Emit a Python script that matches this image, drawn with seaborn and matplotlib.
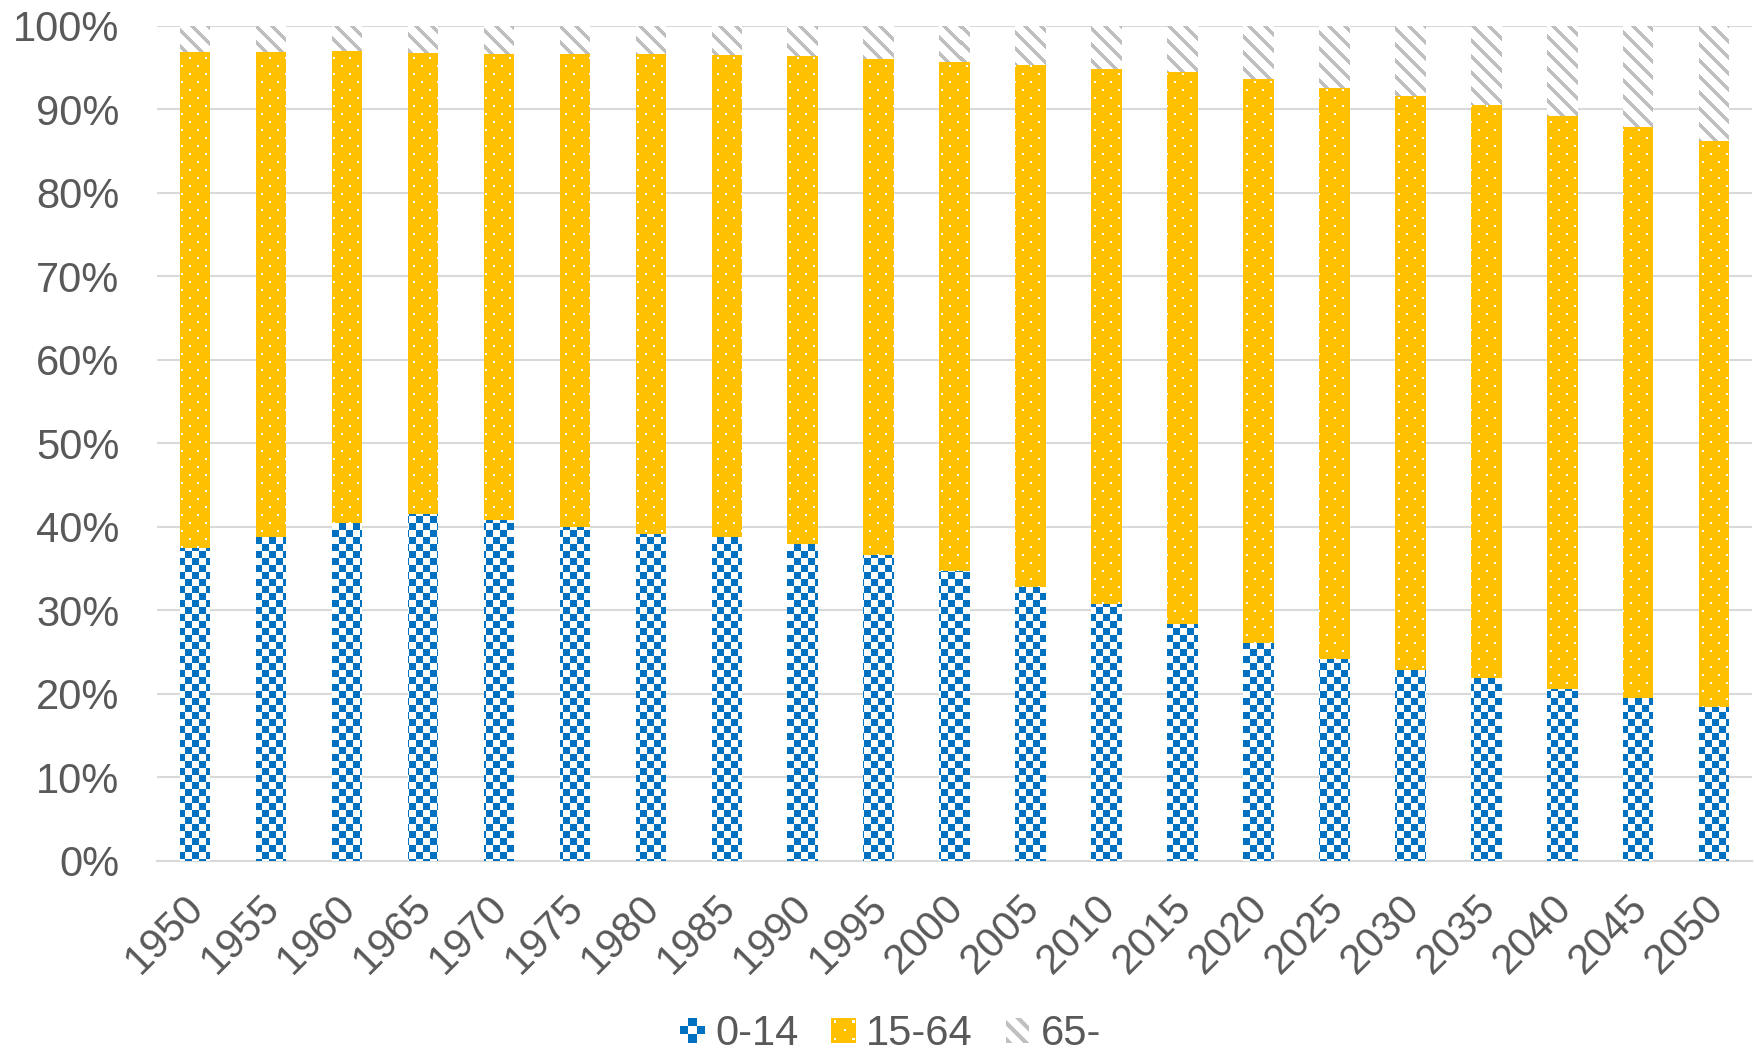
import matplotlib
matplotlib.use('Agg')
import matplotlib.pyplot as plt
import matplotlib.transforms as mtransforms
import seaborn as sns
import numpy as np
import pandas as pd
from matplotlib.patches import Patch, Rectangle, PathPatch
from matplotlib.path import Path
from matplotlib.legend_handler import HandlerBase
from matplotlib.colors import ListedColormap

years = [1950, 1955, 1960, 1965, 1970, 1975, 1980, 1985, 1990, 1995, 2000,
         2005, 2010, 2015, 2020, 2025, 2030, 2035, 2040, 2045, 2050]
# share of population by age group (%)
age_0_14 = [37.5, 38.8, 40.5, 41.6, 40.8, 40.0, 39.2, 38.8, 38.0, 36.7, 34.7,
            32.8, 30.8, 28.4, 26.1, 24.2, 22.9, 21.9, 20.6, 19.5, 18.4]
age_15_64 = [59.4, 58.1, 56.5, 55.2, 55.9, 56.6, 57.4, 57.7, 58.4, 59.4, 61.0,
             62.5, 64.1, 66.1, 67.5, 68.4, 68.7, 68.6, 68.6, 68.4, 67.8]
age_65 = [3.1, 3.1, 3.0, 3.2, 3.3, 3.4, 3.4, 3.5, 3.6, 3.9, 4.3,
          4.7, 5.1, 5.5, 6.4, 7.4, 8.4, 9.5, 10.8, 12.1, 13.8]
group_labels = ['0-14', '15-64', '65-']

BLUE = '#0070C0'
YELLOW = '#FFC000'
GRAY = '#BFBFBF'
TEXT = '#595959'
GRID = '#D9D9D9'

sns.set_style('white')
plt.rcParams['font.family'] = ['Liberation Sans', 'DejaVu Sans']
plt.rcParams['hatch.linewidth'] = 3.0

df = pd.DataFrame({'year': [str(y) for y in years],
                   'young': age_0_14, 'work': age_15_64, 'old': age_65})
df['cum_work'] = df['young'] + df['work']
df['cum_old'] = df['cum_work'] + df['old']

fig = plt.figure(figsize=(17.54, 10.55), dpi=100)
ax = fig.add_axes([0.0895, 0.1839, 0.9095, 0.7915])

sns.barplot(data=df, x='year', y='cum_old', color='white', linewidth=0,
            width=0.4, saturation=1, ax=ax)
sns.barplot(data=df, x='year', y='cum_work', color=YELLOW, linewidth=0,
            width=0.4, saturation=1, ax=ax)
sns.barplot(data=df, x='year', y='young', color=BLUE, linewidth=0,
            width=0.4, saturation=1, ax=ax)

xlim = (-0.5, len(years) - 0.5)
ylim = (0, 100)

# pixel textures (Excel-like pattern fills), clipped to each bar series
bb = ax.get_window_extent()
W, H = int(round(bb.width)), int(round(bb.height))
rows, cols = np.indices((H, W))
tex_old = (((cols - rows) % 16) < 5).astype(int)
tex_work = ((((rows % 16) < 2) & ((cols % 16) < 2)) |
            ((((rows + 8) % 16) < 2) & (((cols + 8) % 16) < 2))).astype(int)
tex_young = ((rows // 7 + cols // 7) % 2)

textures = [(tex_old, ['white', GRAY]),
            (tex_work, [YELLOW, 'white']),
            (tex_young, ['white', BLUE])]
for k, (tex, cols_) in enumerate(textures):
    cont = ax.containers[k]
    paths = [b.get_path().transformed(b.get_patch_transform()) for b in cont]
    clip = PathPatch(Path.make_compound_path(*paths), transform=ax.transData,
                     facecolor='none', edgecolor='none')
    im = ax.imshow(tex, cmap=ListedColormap(cols_), vmin=0, vmax=1,
                   extent=(xlim[0], xlim[1], ylim[0], ylim[1]),
                   origin='upper', aspect='auto', interpolation='nearest',
                   zorder=2 + k)
    im.set_clip_path(clip)

ax.set_xlim(*xlim)
ax.set_ylim(*ylim)
ax.set_axisbelow(True)
ax.yaxis.grid(True, color=GRID, linewidth=1.5)
ax.xaxis.grid(False)
for s in ['top', 'right', 'left']:
    ax.spines[s].set_visible(False)
ax.spines['bottom'].set_color(GRID)
ax.spines['bottom'].set_linewidth(1.5)

ax.set_yticks(range(0, 101, 10))
ax.set_yticklabels([f'{v}%' for v in range(0, 101, 10)])
ax.tick_params(axis='y', length=0, labelsize=30, labelcolor=TEXT, pad=27)
ax.tick_params(axis='x', length=0, labelsize=30, labelcolor=TEXT, pad=19)
shift = mtransforms.ScaledTranslation(-11 / 100, 0, fig.dpi_scale_trans)
for lab in ax.get_xticklabels():
    lab.set_rotation(45)
    lab.set_ha('right')
    lab.set_rotation_mode('anchor')
    lab.set_transform(lab.get_transform() + shift)
ax.set_xlabel('')
ax.set_ylabel('')


class CheckerHandler(HandlerBase):
    def create_artists(self, legend, orig_handle, xdescent, ydescent,
                       width, height, fontsize, trans):
        s = height / 3
        x0 = -xdescent + (width - height) / 2
        y0 = -ydescent
        arts = []
        for i in range(3):
            for j in range(3):
                if (i + j) % 2 == 1:
                    arts.append(Rectangle((x0 + i * s, y0 + j * s), s, s,
                                          facecolor=BLUE, linewidth=0,
                                          transform=trans))
        return arts


class DotHandler(HandlerBase):
    def create_artists(self, legend, orig_handle, xdescent, ydescent,
                       width, height, fontsize, trans):
        x0 = -xdescent + (width - height) / 2
        y0 = -ydescent
        arts = [Rectangle((x0, y0), height, height, facecolor=YELLOW,
                          linewidth=0, transform=trans)]
        d = height * 0.09
        for fx, fy in [(0.15, 0.15), (0.55, 0.5), (0.15, 0.85), (0.9, 0.15),
                       (0.9, 0.85)]:
            arts.append(Rectangle((x0 + fx * height - d / 2,
                                   y0 + fy * height - d / 2), d, d,
                                  facecolor='white', linewidth=0,
                                  transform=trans))
        return arts


h_young = Patch(facecolor=BLUE)
h_work = Patch(facecolor=YELLOW)
h_old = Patch(facecolor='white', edgecolor=GRAY, hatch='\\\\', linewidth=0)
leg = fig.legend([h_young, h_work, h_old], group_labels,
                 handler_map={h_young: CheckerHandler(), h_work: DotHandler()},
                 loc='center', bbox_to_anchor=(0.508, 0.02), ncol=3,
                 frameon=False, fontsize=30, handlelength=0.55,
                 handleheight=0.55, handletextpad=0.27, columnspacing=0.8)
for t in leg.get_texts():
    t.set_color(TEXT)

fig.savefig('out.png', dpi=100)
